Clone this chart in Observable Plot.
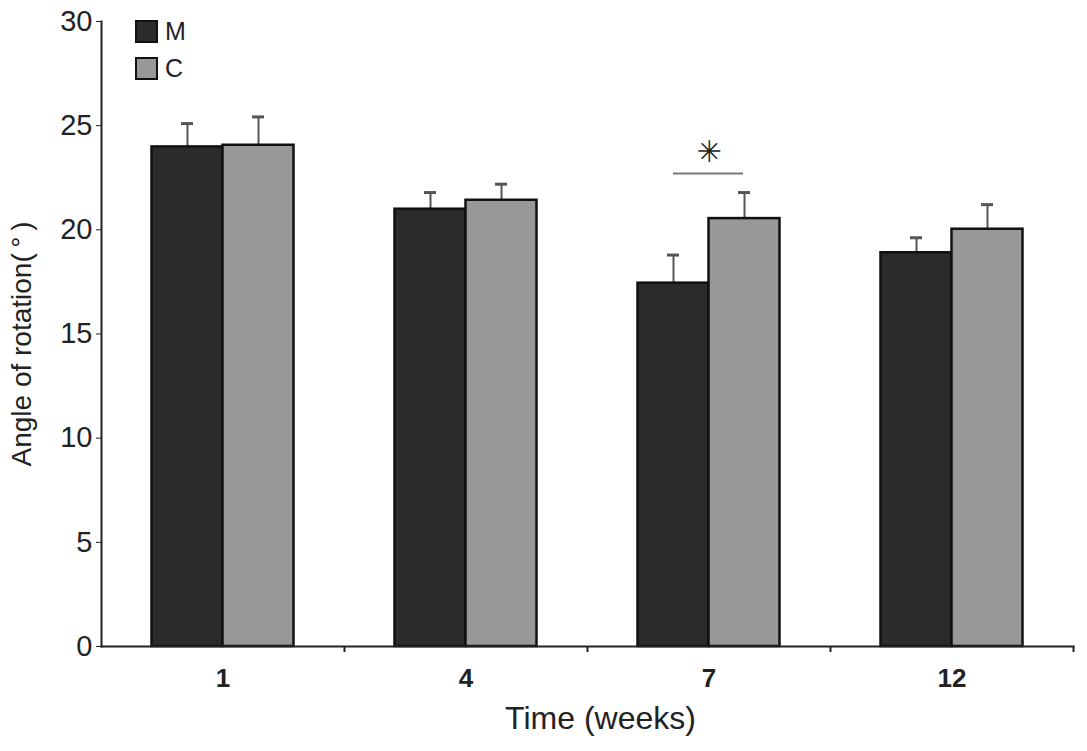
<!DOCTYPE html>
<html>
<head>
<meta charset="utf-8">
<script src="https://cdn.jsdelivr.net/npm/d3@7"></script>
<script src="https://cdn.jsdelivr.net/npm/@observablehq/plot@0.6"></script>
<style>
  body { margin: 0; background: #fff; font-family: "Liberation Sans", Arial, sans-serif; }
  #wrap { position: relative; width: 1087px; height: 751px; }
  #legend { position: absolute; left: 135px; top: 13px; font-size: 25px; color: #222; }
  .li { display: flex; align-items: center; height: 37px; }
  .sw { width: 19px; height: 19px; border: 2px solid #111; margin-right: 7px; }
  svg g[aria-label="text"] text { font-family: "DejaVu Sans", sans-serif; }
</style>
</head>
<body>
<div id="wrap"><div id="legend"></div></div>
<script>
const weeks = ["1", "4", "7", "12"];
const groups = ["M", "C"];
const meanM = [23.98, 20.99, 17.44, 18.9];
const errM = [1.12, 0.8, 1.35, 0.72];
const meanC = [24.06, 21.42, 20.54, 20.03];
const errC = [1.36, 0.77, 1.25, 1.18];
const colors = ["#2b2b2b", "#989898"];
const sigWeek = ["7"];
const sigY = [22.71];
const sigLabel = ["✳"];
const yTicks = [0, 5, 10, 15, 20, 25, 30];

const dataM = weeks.map((w, i) => ({week: w, value: meanM[i], top: meanM[i] + errM[i]}));
const dataC = weeks.map((w, i) => ({week: w, value: meanC[i], top: meanC[i] + errC[i]}));
const sig = sigWeek.map((w, i) => ({week: w, y: sigY[i], label: sigLabel[i]}));

const bw = 243; // band width in px (for insets)
const chart = Plot.plot({
  width: 1087,
  height: 751,
  marginLeft: 101,
  marginRight: 14,
  marginTop: 21,
  marginBottom: 105,
  style: {fontFamily: "'Liberation Sans', Arial, sans-serif", background: "#fff", color: "#222"},
  x: {domain: weeks, padding: 0, label: null},
  y: {domain: [0, 30], label: null},
  marks: [
    Plot.ruleX(dataM, {x: "week", y1: "value", y2: "top", dx: -35.5, stroke: "#555", strokeWidth: 2}),
    Plot.ruleX(dataC, {x: "week", y1: "value", y2: "top", dx: 35.5, stroke: "#555", strokeWidth: 2}),
    Plot.tickY(dataM, {x: "week", y: "top", insetLeft: 80, insetRight: 151, stroke: "#555", strokeWidth: 3}),
    Plot.tickY(dataC, {x: "week", y: "top", insetLeft: 151, insetRight: 80, stroke: "#555", strokeWidth: 3}),
    Plot.barY(dataM, {x: "week", y: "value", insetLeft: 50.5, insetRight: 121.5, fill: colors[0], stroke: "#111", strokeWidth: 2.5}),
    Plot.barY(dataC, {x: "week", y: "value", insetLeft: 121.5, insetRight: 50.5, fill: colors[1], stroke: "#111", strokeWidth: 2.5}),
    Plot.tickY(sig, {x: "week", y: "y", insetLeft: 86, insetRight: 87, stroke: "#777", strokeWidth: 2}),
    Plot.text(sig, {x: "week", y: "y", text: "label", dy: -21, fontSize: 30, fill: "#222"}),
    Plot.frame({anchor: "left", stroke: "#222", strokeWidth: 2}),
    Plot.frame({anchor: "bottom", stroke: "#222", strokeWidth: 2}),
    Plot.axisY({ticks: yTicks, tickSize: 5, tickPadding: 4, fontSize: 29, label: "Angle of rotation(\u2009°\u2009)", labelAnchor: "center", labelArrow: "none", labelOffset: 90, stroke: "#222"}),
    Plot.axisX({tickSize: 6, dx: bw / 2, text: null, label: null, stroke: "#222", strokeWidth: 2}),
    Plot.axisX({tickSize: 0, tickPadding: 22, fontSize: 26, label: "Time (weeks)", labelAnchor: "center", labelArrow: "none", labelOffset: 82})
  ]
});
document.getElementById("wrap").prepend(chart);

function styleGroup(label, css) {
  chart.querySelectorAll(`g[aria-label="${label}"]`).forEach(g => {
    g.querySelectorAll("text").forEach(t => Object.assign(t.style, css));
  });
}
styleGroup("y-axis tick label", {fontSize: "29px"});
styleGroup("x-axis tick label", {fontSize: "26px", fontWeight: "bold"});
styleGroup("y-axis label", {fontSize: "28px", fontWeight: "normal"});
styleGroup("x-axis label", {fontSize: "32px", fontWeight: "normal"});
chart.querySelectorAll('g[aria-label="y-axis label"] text').forEach(t => t.setAttribute("dx", "-10"));
chart.querySelectorAll('g[aria-label="x-axis label"] text').forEach(t => t.setAttribute("dx", "13"));

const legend = document.getElementById("legend");
groups.forEach((g, i) => {
  const row = document.createElement("div");
  row.className = "li";
  row.innerHTML = `<span class="sw" style="background:${colors[i]}"></span><span>${g}</span>`;
  legend.appendChild(row);
});
</script>
</body>
</html>
